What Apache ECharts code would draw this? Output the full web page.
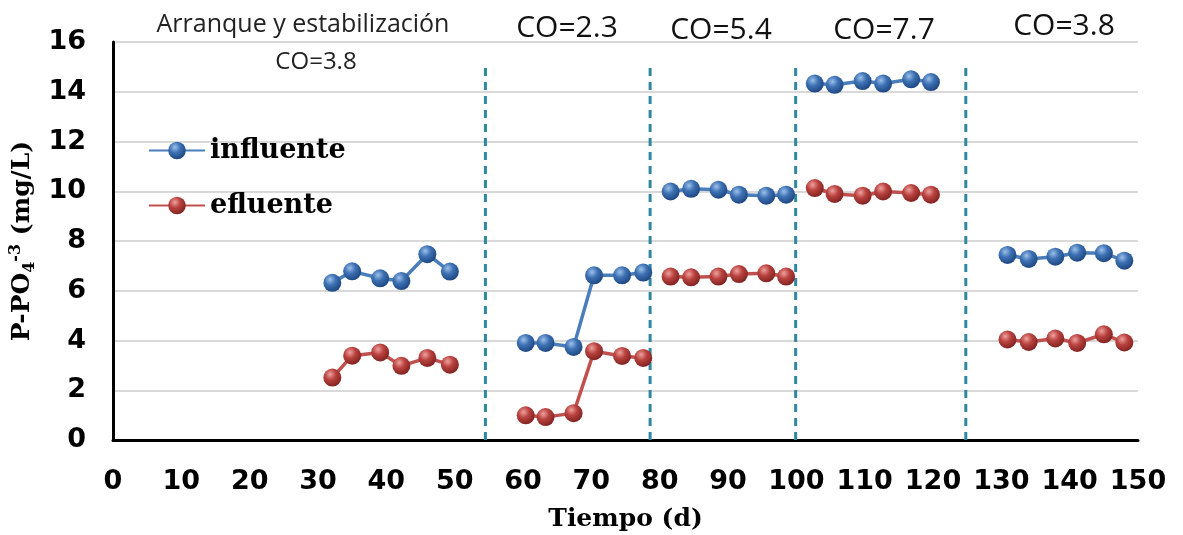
<!DOCTYPE html>
<html>
<head>
<meta charset="utf-8">
<script src="https://cdn.jsdelivr.net/npm/echarts@6/dist/echarts.min.js"></script>
<style>
  html, body { margin: 0; padding: 0; background: #fff; }
  #chart { width: 1183px; height: 535px; }
</style>
</head>
<body>
<div id="chart"></div>
<script>
// days for each phase
const daysP1 = [32.1, 35.0, 39.1, 42.2, 46.0, 49.3];
const daysP2 = [60.4, 63.3, 67.4, 70.4, 74.5, 77.6];
const daysP3 = [81.6, 84.6, 88.6, 91.6, 95.6, 98.5];
const daysP4 = [102.7, 105.6, 109.7, 112.7, 116.8, 119.7];
const daysP5 = [130.9, 134.0, 137.9, 141.1, 145.0, 148.0];

// P-PO4 influente (mg/L)
const infP1 = [6.32, 6.78, 6.50, 6.39, 7.47, 6.77];
const infP2 = [3.90, 3.90, 3.74, 6.62, 6.62, 6.73];
const infP3 = [9.99, 10.10, 10.06, 9.86, 9.82, 9.86];
const infP4 = [14.33, 14.28, 14.43, 14.33, 14.50, 14.39];
const infP5 = [7.44, 7.28, 7.37, 7.53, 7.51, 7.21];

// P-PO4 efluente (mg/L)
const efP1 = [2.51, 3.39, 3.52, 2.98, 3.30, 3.03];
const efP2 = [0.99, 0.92, 1.08, 3.57, 3.38, 3.30];
const efP3 = [6.57, 6.54, 6.57, 6.67, 6.70, 6.57];
const efP4 = [10.13, 9.89, 9.82, 9.99, 9.93, 9.86];
const efP5 = [4.04, 3.94, 4.08, 3.90, 4.25, 3.92];

// phase boundaries (d)
const boundaries = [54.5, 78.6, 99.9, 124.8];
const boundaryTop = 15;
const xTicks = [0, 150, 10];
const yTicks = [0, 16, 2];

const phaseDays = [daysP1, daysP2, daysP3, daysP4, daysP5];
const infPhases = [infP1, infP2, infP3, infP4, infP5];
const efPhases = [efP1, efP2, efP3, efP4, efP5];

function joinPhases(vals) {
    const out = [];
    phaseDays.forEach((d, i) => {
        if (i > 0) out.push([d[0] - 1, null]);
        d.forEach((x, j) => out.push([x, vals[i][j]]));
    });
    return out;
}

function sphere(light, mid, dark) {
    return {
        type: "radial", x: 0.38, y: 0.32, r: 0.7,
        colorStops: [
            { offset: 0, color: light },
            { offset: 0.45, color: mid },
            { offset: 1, color: dark }
        ]
    };
}

const myChart = echarts.init(document.getElementById("chart"));

const dashedSeries = boundaries.map(b => ({
    type: "line",
    name: "limite",
    data: [[b, 0], [b, boundaryTop]],
    symbol: "none",
    silent: true,
    z: 1,
    lineStyle: { color: "#2e88a0", width: 3, type: [8, 6] }
}));

const option = {
    animation: false,
    backgroundColor: "#fff",
    grid: { left: 113, right: 45, top: 42, bottom: 95, containLabel: false, outerBoundsMode: "none" },
    legend: {
        data: ["influente", "efluente"],
        orient: "vertical",
        left: 143,
        top: 132,
        itemGap: 28,
        itemWidth: 56,
        itemHeight: 22,
        textStyle: { fontFamily: "DejaVu Serif", fontWeight: "bold", fontSize: 27, color: "#000" }
    },
    xAxis: {
        type: "value",
        min: xTicks[0],
        max: xTicks[1],
        interval: xTicks[2],
        name: "Tiempo (d)",
        nameLocation: "middle",
        nameGap: 67,
        nameTextStyle: { fontFamily: "DejaVu Serif", fontWeight: "bold", fontSize: 25, color: "#000" },
        axisLine: { lineStyle: { color: "#000", width: 3 } },
        axisTick: { show: false },
        splitLine: { show: false },
        axisLabel: { margin: 28, fontFamily: "DejaVu Sans", fontWeight: "bold", fontSize: 27, color: "#000" }
    },
    yAxis: {
        type: "value",
        min: yTicks[0],
        max: yTicks[1],
        interval: yTicks[2],
        name: "{b|P-PO}{sub|4}{sup|-3}{b| (mg/L)}",
        nameLocation: "middle",
        nameRotate: 90,
        nameGap: 70,
        nameTextStyle: {
            rich: {
                b: { fontFamily: "DejaVu Serif", fontWeight: "bold", fontSize: 25, color: "#000", lineHeight: 30 },
                sub: { fontFamily: "DejaVu Serif", fontWeight: "bold", fontSize: 16, color: "#000", verticalAlign: "bottom", lineHeight: 30 },
                sup: { fontFamily: "DejaVu Serif", fontWeight: "bold", fontSize: 16, color: "#000", verticalAlign: "top", lineHeight: 30 }
            }
        },
        axisLine: { show: true, lineStyle: { color: "#000", width: 3 } },
        axisTick: { show: false },
        splitLine: { lineStyle: { color: "#d9d9d9", width: 2 } },
        axisLabel: { margin: 27, fontFamily: "DejaVu Sans", fontWeight: "bold", fontSize: 27, color: "#000" }
    },
    graphic: [
        { type: "text", style: { text: "Arranque y estabilización", x: 303, y: 25, align: "center", verticalAlign: "middle", font: "25px 'Open Sans'", fill: "#222" } },
        { type: "text", style: { text: "CO=3.8", x: 316, y: 62, align: "center", verticalAlign: "middle", font: "24px 'Open Sans'", fill: "#222" } },
        { type: "text", style: { text: "CO=2.3", x: 567, y: 28, align: "center", verticalAlign: "middle", font: "30px 'Open Sans'", fill: "#111" } },
        { type: "text", style: { text: "CO=5.4", x: 721, y: 30, align: "center", verticalAlign: "middle", font: "30px 'Open Sans'", fill: "#111" } },
        { type: "text", style: { text: "CO=7.7", x: 884, y: 30, align: "center", verticalAlign: "middle", font: "30px 'Open Sans'", fill: "#111" } },
        { type: "text", style: { text: "CO=3.8", x: 1064, y: 26, align: "center", verticalAlign: "middle", font: "30px 'Open Sans'", fill: "#111" } }
    ],
    series: [
        {
            name: "influente",
            type: "line",
            data: joinPhases(infPhases),
            symbol: "circle",
            symbolSize: 18,
            z: 3,
            lineStyle: { color: "#4a7ebb", width: 3.5 },
            itemStyle: { color: sphere("#9cc0ea", "#3d71b3", "#1d4680") }
        },
        {
            name: "efluente",
            type: "line",
            data: joinPhases(efPhases),
            symbol: "circle",
            symbolSize: 18,
            z: 3,
            lineStyle: { color: "#c0504d", width: 3.5 },
            itemStyle: { color: sphere("#eea19e", "#b9423f", "#7f2220") }
        },
        ...dashedSeries
    ]
};

myChart.setOption(option);
window.addEventListener("resize", () => myChart.resize());
</script>
</body>
</html>
